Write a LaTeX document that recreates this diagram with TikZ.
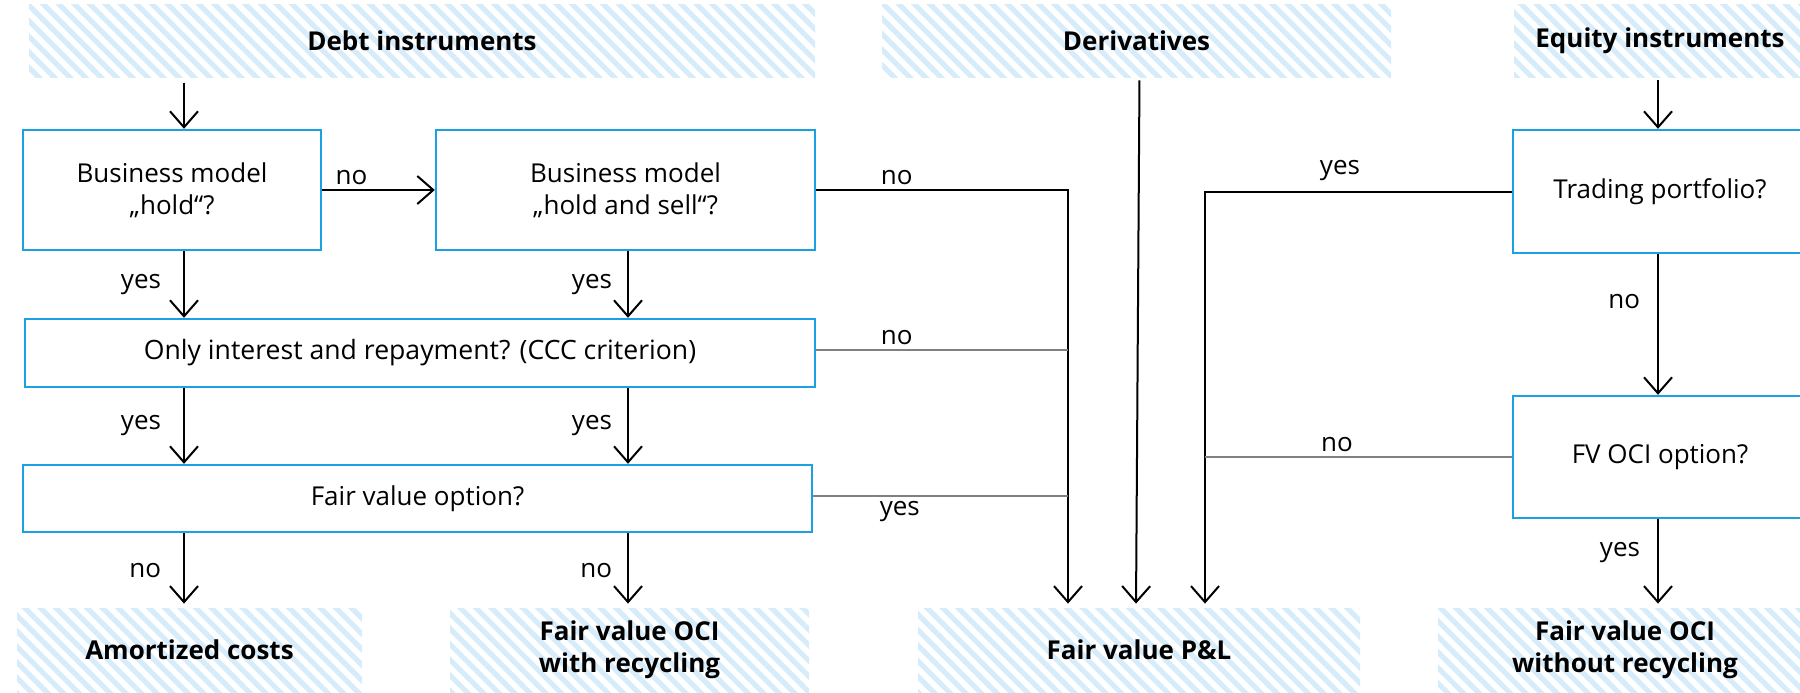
\documentclass[tikz,border=0pt]{standalone}
\usepackage{fontspec}
\setmainfont{Open Sans}
\usepackage{xcolor}
\usepackage{tikz}
\usetikzlibrary{arrows.meta}
\usetikzlibrary{patterns.meta}
\definecolor{boxblue}{RGB}{27,161,226}
\definecolor{hatchblue}{RGB}{214,236,250}
\tikzstyle{banner} = [rectangle, pattern={Lines[angle=-45,distance=5.5pt,line width=2.6pt]}, pattern color=hatchblue, font=\fontsize{13}{16}\selectfont\bfseries, align=center, inner sep=0pt]
\tikzstyle{decision} = [rectangle, draw=boxblue, line width=1.2pt, align=center, inner sep=0pt, font=\fontsize{13}{16}\selectfont]
\tikzstyle{arrow} = [line width=1pt,-{Straight Barb[length=8pt,width=14pt]}]
\tikzstyle{link} = [line width=1pt]
\tikzstyle{greylink} = [line width=1pt, draw=black!50]
\tikzstyle{lbl} = [inner sep=2pt, font=\fontsize{13}{16}\selectfont]

\begin{document}
\begin{tikzpicture}[x=0.5pt,y=-0.5pt]
    \useasboundingbox (0,0) rectangle (1800,692);
    \clip (0,0) rectangle (1800,692);

    \node[banner, minimum width=393pt, minimum height=36.5pt] (debt) at (422,40.5) {Debt instruments};
    \node[banner, minimum width=254.5pt, minimum height=36.5pt] (deriv) at (1136.5,40.5) {Derivatives};
    \node[banner, minimum width=146pt, minimum height=36.5pt] (equity) at (1660,40.5) {Equity instruments};

    \node[banner, minimum width=172.5pt, minimum height=42pt] (amort) at (189.5,650) {Amortized costs};
    \node[banner, minimum width=179.5pt, minimum height=42pt] (fvrec) at (629.5,650) {Fair value OCI\\with recycling};
    \node[banner, minimum width=221pt, minimum height=42pt] (pnl) at (1139,650) {Fair value P\&L};
    \node[banner, minimum width=187pt, minimum height=42pt] (fvnorec) at (1625,650) {Fair value OCI\\without recycling};

    \node[decision, minimum width=149pt, minimum height=60pt] (hold) at (172,190) {Business model\\„hold“?};
    \node[decision, minimum width=189.5pt, minimum height=60pt] (holdsell) at (625.5,190) {Business model\\„hold and sell“?};
    \node[decision, minimum width=395pt, minimum height=34pt, font=\fontsize{13.3}{16}\selectfont] (sppi) at (420,353) {Only interest and repayment? (CCC criterion)};
    \node[decision, minimum width=394.5pt, minimum height=33.5pt] (fvopt) at (417.5,498.5) {Fair value option?};
    \node[decision, minimum width=147pt, minimum height=61.5pt] (trading) at (1660,191.5) {Trading portfolio?};
    \node[decision, minimum width=147pt, minimum height=61pt] (fvoci) at (1660,457) {FV OCI option?};

    \coordinate (colA) at (184,0);
    \coordinate (colB) at (628,0);
    \coordinate (colC) at (1068,0);
    \coordinate (colE) at (1205,0);
    \coordinate (colF) at (1658,0);

    \draw[arrow, shorten <=1.5pt] (colA |- debt.south) -- (colA |- hold.north);
    \draw[arrow] (hold.east) -- node[lbl, above, pos=0.26] {no} (holdsell.west);
    \draw[arrow, shorten >=2pt] (holdsell.east) -- node[lbl, above, pos=0.32] {no} (colC |- holdsell.east) -- (colC |- pnl.north);

    \draw[arrow] (colA |- hold.south) -- node[lbl, left=9pt] {yes} (colA |- sppi.north);
    \draw[arrow] (colB |- holdsell.south) -- node[lbl, left=5.5pt] {yes} (colB |- sppi.north);
    \draw[greylink] ([yshift=1.5pt]sppi.east) -- node[lbl, above, pos=0.32] {no} ([yshift=1.5pt]colC |- sppi.east);

    \draw[arrow] (colA |- sppi.south) -- node[lbl, left=9pt] {yes} (colA |- fvopt.north);
    \draw[arrow] (colB |- sppi.south) -- node[lbl, left=5.5pt] {yes} (colB |- fvopt.north);
    \draw[greylink] ([yshift=1.25pt]fvopt.east) -- node[lbl, below, pos=0.34] {yes} ([yshift=1.25pt]colC |- fvopt.east);

    \draw[arrow, shorten >=2pt] (colA |- fvopt.south) -- node[lbl, left=9pt] {no} (colA |- amort.north);
    \draw[arrow, shorten >=2pt] (colB |- fvopt.south) -- node[lbl, left=5.5pt] {no} (colB |- fvrec.north);

    \draw[arrow, shorten <=1.5pt, shorten >=2pt] ([xshift=1.5pt]deriv.south) -- ([xshift=-1.5pt]pnl.north);

    \draw[arrow, shorten <=1.5pt] (colF |- equity.south) -- (colF |- trading.north);
    \draw[arrow, shorten >=2pt] (trading.west) -- node[lbl, above=3pt, pos=0.56] {yes} (colE |- trading.west) -- (colE |- pnl.north);
    \draw[arrow] (colF |- trading.south) -- node[lbl, left=6.5pt, pos=0.34] {no} (colF |- fvoci.north);
    \draw[greylink] (fvoci.west) -- node[lbl, above, pos=0.57] {no} (colE |- fvoci.west);
    \draw[arrow, shorten >=2pt] (colF |- fvoci.south) -- node[lbl, left=6.5pt, pos=0.375] {yes} (colF |- fvnorec.north);
\end{tikzpicture}
\end{document}
